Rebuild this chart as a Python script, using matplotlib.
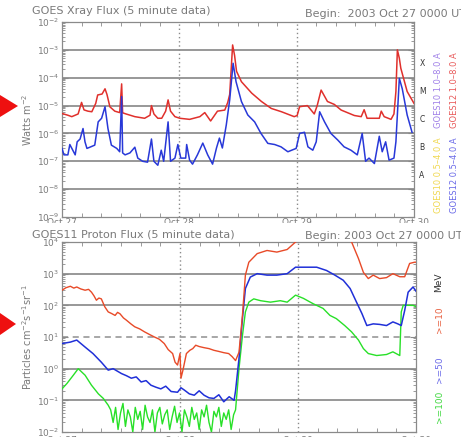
import matplotlib
matplotlib.use("Agg")
import matplotlib.pyplot as plt
import numpy as np
from matplotlib.patches import Polygon, Rectangle
from matplotlib.ticker import FixedLocator, LogLocator, NullFormatter

# ---------------- data: X-ray (GOES12) ----------------
xr_long_hours = [0, 1.2, 2.0, 3.3, 4.0, 4.5, 5.3, 6.1, 6.9, 7.3, 8.2, 8.8, 9.2, 9.8, 10.8, 11.8, 12.2, 12.4,
                 13.1, 14.9, 16.9, 18.0, 18.3, 18.8, 19.6, 20.4, 21.2, 21.7, 22.2, 23.1, 24.1, 26.1, 28.2, 29.2,
                 30.4, 31.8, 33.3, 33.9, 34.3, 34.9, 35.3, 35.7, 36.7, 38.8, 40.8, 42.8, 44.9, 47.5, 48.1, 48.6,
                 50.2, 51.6, 52.2, 53.0, 54.3, 55.7, 57.1, 59.8, 61.2, 61.8, 62.4, 63.9, 64.9, 65.3, 65.9, 67.3,
                 67.9, 68.3, 68.6, 69.0, 69.3, 70.6, 72.0]
xr_long_flux = [5.2e-6, 4.5e-6, 4.0e-6, 5.0e-6, 1.3e-5, 7.0e-6, 6.3e-6, 6.0e-6, 1.2e-5, 2.4e-5, 2.6e-5, 4.0e-5,
                2.5e-5, 9.0e-6, 6.3e-6, 5.6e-6, 6.0e-5, 5.5e-6, 5.0e-6, 4.0e-6, 3.5e-6, 4.5e-6, 1.0e-5, 5.0e-6,
                3.5e-6, 3.5e-6, 6.3e-6, 1.6e-5, 6.3e-6, 4.0e-6, 3.5e-6, 3.2e-6, 4.0e-6, 5.6e-6, 2.8e-6, 6.3e-6,
                6.9e-6, 1.3e-5, 2.5e-5, 1.5e-3, 6.3e-4, 1.7e-4, 7.2e-5, 2.8e-5, 1.4e-5, 7.9e-6, 6.0e-6, 4.0e-6,
                4.4e-6, 9.1e-6, 1.0e-5, 5.0e-6, 1.0e-5, 3.6e-5, 1.4e-5, 1.1e-5, 6.9e-6, 4.4e-6, 4.0e-6, 7.1e-6,
                3.5e-6, 3.5e-6, 3.5e-6, 6.3e-6, 4.0e-6, 3.2e-6, 5.0e-6, 3.2e-5, 1.0e-3, 5.0e-4, 2.2e-4, 3.2e-5,
                1.2e-5]

xr_short_hours = [0, 0.4, 1.2, 1.6, 2.7, 3.1, 3.7, 4.3, 4.7, 5.1, 5.7, 6.7, 7.4, 8.1, 8.8, 9.4, 10.1, 11.2,
                  11.8, 12.2, 12.4, 12.9, 13.9, 14.9, 15.5, 16.5, 17.5, 18.3, 18.8, 19.6, 20.3, 20.8, 21.7, 22.2,
                  23.1, 23.7, 24.3, 25.3, 25.5, 26.1, 26.7, 27.7, 28.8, 29.8, 30.8, 31.6, 32.2, 32.8, 33.6, 34.3,
                  35.0, 35.6, 36.7, 38.0, 39.4, 40.7, 42.1, 43.5, 44.8, 46.2, 47.9, 48.6, 49.6, 50.3, 51.3, 52.0,
                  52.7, 53.7, 55.0, 56.4, 57.7, 59.1, 60.4, 61.4, 62.1, 62.8, 63.9, 64.9, 65.5, 66.2, 66.9, 67.9,
                  68.3, 69.0, 69.6, 70.6, 71.6]
xr_short_flux = [2.9e-7, 1.7e-7, 1.7e-7, 4.0e-7, 1.7e-7, 5.0e-7, 6.3e-7, 1.5e-6, 5.0e-7, 2.9e-7, 3.2e-7, 3.8e-7,
                 2.6e-6, 3.5e-6, 9.1e-6, 1.5e-6, 3.8e-7, 2.9e-7, 2.2e-7, 2.1e-5, 2.0e-7, 1.7e-7, 2.0e-7, 3.2e-7,
                 1.3e-7, 1.0e-7, 9.3e-8, 6.3e-7, 1.0e-7, 7.2e-8, 2.5e-7, 1.0e-7, 2.6e-6, 1.0e-7, 1.3e-7, 4.0e-7,
                 1.3e-7, 1.3e-7, 4.0e-7, 1.1e-7, 7.9e-8, 1.7e-7, 4.5e-7, 1.7e-7, 7.9e-8, 3.0e-7, 6.8e-7, 3.0e-7,
                 2.0e-6, 1.6e-5, 3.3e-4, 7.2e-5, 1.4e-5, 4.6e-6, 2.6e-6, 1.0e-6, 4.4e-7, 4.0e-7, 3.3e-7, 2.2e-7,
                 2.9e-7, 1.0e-6, 1.1e-6, 3.3e-7, 2.5e-7, 5.0e-7, 6.0e-6, 2.6e-6, 1.0e-6, 5.8e-7, 3.3e-7, 2.5e-7,
                 1.7e-7, 1.0e-6, 1.0e-7, 1.3e-7, 8.3e-8, 7.9e-7, 2.2e-7, 5.0e-7, 1.1e-7, 1.3e-7, 5.0e-7, 9.5e-5,
                 4.0e-5, 4.6e-6, 1.1e-6]

# ---------------- data: protons (GOES11) ----------------
p10_hours = [0, 0.8, 1.7, 2.4, 3.0, 3.8, 4.7, 5.4, 6.0, 6.5, 7.0, 7.5, 8.0, 8.7, 9.4, 10.1, 10.8, 11.3, 11.8,
             12.5, 13.1, 14.0, 14.8, 15.8, 16.8, 17.8, 18.8, 19.8, 20.8, 21.6, 22.5, 23.0, 23.5, 24.0, 24.2,
             24.6, 25.3, 26.0, 26.6, 27.2, 27.9, 28.9, 29.9, 30.9, 31.9, 32.9, 33.9, 34.6, 35.3, 36.0, 36.7,
             37.3, 38.0, 39.7, 41.7, 43.7, 45.8, 47.5, 49.0, 52.0, 56.0, 58.9, 60.3, 61.3, 62.3, 63.3, 64.6,
             66.0, 67.3, 68.7, 69.7, 70.7, 71.7, 72.0]
p10_flux = [300, 360, 400, 350, 380, 330, 300, 320, 260, 200, 145, 170, 160, 90, 62, 55, 48, 60, 54,
            40, 34, 26, 21, 18, 14.5, 12, 10, 8.5, 6.2, 4.0, 3.0, 1.6, 1.3, 3.0, 0.5,
            0.9, 3.0, 3.8, 4.3, 5.5, 5.0, 4.6, 4.3, 3.8, 3.5, 3.2, 3.0, 2.4, 1.8, 3.3, 48,
            900, 2300, 4300, 5400, 4800, 5800, 10000, 14000, 20000, 25000, 10000, 3000, 1100, 700, 900, 700,
            750, 1000, 800, 800, 2100, 2300, 2300]

p50_hours = [0, 1.7, 3.0, 4.7, 6.3, 8.0, 9.4, 10.4, 12.1, 13.1, 14.1, 15.1, 16.1, 17.1, 18.1, 19.1, 20.1, 21.1,
             22.2, 23.5, 24.2, 24.9, 25.9, 26.9, 27.9, 28.9, 29.9, 30.9, 31.9, 32.9, 34.0, 35.0, 35.3, 36.0,
             36.7, 37.3, 38.3, 39.7, 41.7, 43.7, 45.8, 47.5, 49.1, 51.8, 53.8, 55.5, 57.2, 58.6, 59.9, 61.0,
             62.0, 63.3, 64.6, 66.0, 67.3, 68.3, 69.0, 69.7, 70.4, 71.4, 72.0]
p50_flux = [6.2, 6.9, 8.0, 4.8, 3.0, 1.6, 0.9, 1.0, 0.7, 0.6, 0.5, 0.55, 0.38, 0.42, 0.3, 0.26, 0.23, 0.28,
            0.19, 0.18, 0.25, 0.21, 0.16, 0.145, 0.2, 0.145, 0.12, 0.115, 0.15, 0.09, 0.13, 0.1, 0.2, 2.1,
            38, 340, 780, 1000, 900, 900, 1000, 1600, 1600, 1600, 1260, 900, 620, 340, 126, 55,
            23, 26, 25, 23, 30, 26, 23, 69, 260, 380, 280]

p100_hours = [0, 1.0, 2.3, 3.3, 4.7, 6.0, 7.4, 8.4, 9.4,
              9.9, 10.4, 10.9, 11.4, 11.9, 12.4, 12.9, 13.4, 13.9, 14.4, 14.9, 15.4, 15.9, 16.4, 16.9, 17.4,
              17.9, 18.4, 18.9, 19.4, 19.9, 20.4, 20.9, 21.4, 21.9, 22.4, 22.9, 23.4, 23.9, 24.4, 24.9, 25.4,
              25.9, 26.4, 26.9, 27.4, 27.9, 28.4, 28.9, 29.4, 29.9, 30.4, 30.9, 31.4, 31.9, 32.4, 32.9, 33.4,
              33.9, 34.4, 34.9,
              35.3, 36.0, 36.7, 37.3, 38.0, 39.0, 40.4, 42.4, 44.4, 45.8, 47.5, 49.1, 51.1, 53.1, 54.5, 55.8,
              57.5, 58.9, 60.3, 61.3, 62.3, 64.0, 66.0, 67.3, 68.7, 69.0, 69.4, 70.4, 71.4, 72.0]
p100_flux = [0.23, 0.34, 0.62, 1.0, 0.62, 0.3, 0.16, 0.115, 0.07,
             0.05, 0.02, 0.06, 0.012, 0.04, 0.08, 0.015, 0.05, 0.03, 0.01, 0.06, 0.025, 0.045, 0.012, 0.07, 0.03,
             0.02, 0.05, 0.01, 0.04, 0.06, 0.018, 0.035, 0.05, 0.012, 0.03, 0.065, 0.02, 0.04, 0.01, 0.05, 0.03,
             0.015, 0.06, 0.025, 0.04, 0.012, 0.05, 0.03, 0.07, 0.02, 0.01, 0.045, 0.03, 0.06, 0.015, 0.04, 0.025,
             0.05, 0.012, 0.035,
             0.05, 1.0, 11, 62, 126, 160, 140, 126, 140, 126, 210, 166, 112, 80, 48, 38,
             23, 14.5, 8, 4.3, 3.0, 2.6, 2.8, 3.4, 2.6, 62, 100, 100, 100, 90]

day_hours = [0, 24, 48, 72]
day_labels = ["Oct 27", "Oct 28", "Oct 29", "Oct 30"]
xr_ticks = [1e-9, 1e-8, 1e-7, 1e-6, 1e-5, 1e-4, 1e-3, 1e-2]
xr_ticklabels = ["10$^{-9}$", "10$^{-8}$", "10$^{-7}$", "10$^{-6}$", "10$^{-5}$", "10$^{-4}$", "10$^{-3}$", "10$^{-2}$"]
p_ticks = [1e-2, 1e-1, 1e0, 1e1, 1e2, 1e3, 1e4]
p_ticklabels = ["10$^{-2}$", "10$^{-1}$", "10$^{0}$", "10$^{1}$", "10$^{2}$", "10$^{3}$", "10$^{4}$"]
class_letters = ["X", "M", "C", "B", "A"]
class_centers = [10**-3.5, 10**-4.5, 10**-5.5, 10**-6.5, 10**-7.5]

# ---------------- figure ----------------
W, H = 461, 437
fig = plt.figure(figsize=(W / 100, H / 100), dpi=100)
fig.patch.set_facecolor("white")
GRAY = "#8a8a8a"
TXT = "#7a7a7a"
FS = 6.5


def px_rect(x0, y0, x1, y1):
    return [x0 / W, 1 - y1 / H, (x1 - x0) / W, (y1 - y0) / H]


def style_axes(ax, ticks, labels, xpad):
    ax.set_yscale("log")
    ax.set_xlim(0, 72)
    ax.set_yticks(ticks)
    ax.set_yticklabels(labels, fontsize=FS, color=TXT)
    ax.yaxis.set_minor_locator(LogLocator(base=10, subs=np.arange(2, 10), numticks=20))
    ax.yaxis.set_minor_formatter(NullFormatter())
    ax.tick_params(axis="y", which="major", length=4, width=0.8, color=GRAY, right=True, direction="in", pad=2)
    ax.tick_params(axis="y", which="minor", length=2, width=0.6, color=GRAY, right=True, direction="in")
    ax.set_xticks(day_hours)
    ax.set_xticklabels(day_labels, fontsize=FS, color=TXT)
    ax.xaxis.set_minor_locator(FixedLocator([h for h in range(0, 73, 4)]))
    ax.tick_params(axis="x", which="major", length=0, pad=xpad, top=False)
    ax.tick_params(axis="x", which="minor", length=3, width=0.6, color=GRAY, top=True, direction="in")
    for s in ax.spines.values():
        s.set_color(GRAY)
        s.set_linewidth(0.9)
    for d in day_hours[1:-1]:
        ax.axvline(d, color=GRAY, lw=1.0, ls=(0, (1, 2)), zorder=1)


# ---- top panel: X-ray ----
ax1 = fig.add_axes(px_rect(62, 22, 414, 217))
style_axes(ax1, xr_ticks, xr_ticklabels, 1)
ax1.set_ylim(1e-9, 1e-2)
for g in xr_ticks[1:-1]:
    ax1.axhline(g, color="#909090", lw=1.3, zorder=1)
ax1.plot(xr_long_hours, xr_long_flux, color="#e0302c", lw=1.1, zorder=3)
ax1.plot(xr_short_hours, xr_short_flux, color="#2838d8", lw=1.1, zorder=3)
ax1.set_ylabel("Watts m$^{-2}$", fontsize=FS + 0.5, color=TXT, labelpad=2)
for letter, c in zip(class_letters, class_centers):
    ax1.text(1.015, c, letter, transform=ax1.get_yaxis_transform(), fontsize=5.5,
             color="#333333", va="center", ha="left")
ax1.text(1.07, 0.65, "GOES10 1.0\u20138.0 A", transform=ax1.transAxes, rotation=90, fontsize=6,
         color="#a080e8", va="center", ha="center")
ax1.text(1.115, 0.65, "GOES12 1.0\u20138.0 A", transform=ax1.transAxes, rotation=90, fontsize=6,
         color="#e85a5a", va="center", ha="center")
ax1.text(1.07, 0.215, "GOES10 0.5\u20134.0 A", transform=ax1.transAxes, rotation=90, fontsize=6,
         color="#f0d850", va="center", ha="center")
ax1.text(1.115, 0.215, "GOES12 0.5\u20134.0 A", transform=ax1.transAxes, rotation=90, fontsize=6,
         color="#6a6ae8", va="center", ha="center")

fig.text(32 / W, 1 - 11 / H, "GOES Xray Flux (5 minute data)", fontsize=8, color=TXT, va="center", ha="left")
fig.text(305 / W, 1 - 14 / H, "Begin:  2003 Oct 27 0000 UTC", fontsize=8, color=TXT, va="center", ha="left")

# ---- bottom panel: protons ----
ax2 = fig.add_axes(px_rect(62, 242, 416, 432))
style_axes(ax2, p_ticks, p_ticklabels, 3)
ax2.set_ylim(1e-2, 1e4)
for g in [1e-1, 1e0, 1e2, 1e3]:
    ax2.axhline(g, color="#909090", lw=1.3, zorder=1)
ax2.axhline(1e1, color="#909090", lw=1.1, ls=(0, (4, 3)), zorder=1)
ax2.plot(p100_hours, p100_flux, color="#28e028", lw=1.0, zorder=3)
ax2.plot(p50_hours, p50_flux, color="#2030d8", lw=1.1, zorder=4)
ax2.plot(p10_hours, p10_flux, color="#e84a28", lw=1.0, zorder=5)
ax2.set_ylabel("Particles cm$^{-2}$s$^{-1}$sr$^{-1}$", fontsize=FS + 0.5, color=TXT, labelpad=2)
ax2.text(1.065, 0.79, "MeV", transform=ax2.transAxes, rotation=90, fontsize=6.5, color="#333333",
         va="center", ha="center")
ax2.text(1.065, 0.59, ">=10", transform=ax2.transAxes, rotation=90, fontsize=6.5, color="#e86040",
         va="center", ha="center")
ax2.text(1.065, 0.33, ">=50", transform=ax2.transAxes, rotation=90, fontsize=6.5, color="#6a6ae8",
         va="center", ha="center")
ax2.text(1.065, 0.13, ">=100", transform=ax2.transAxes, rotation=90, fontsize=6.5, color="#40d840",
         va="center", ha="center")

# cover lower part of the top panel's date labels (cropped look)
fig.add_artist(Rectangle((0, 1 - 229 / H), 1, 6.5 / H, transform=fig.transFigure, facecolor="white",
                         edgecolor="none", zorder=5))
fig.text(32 / W, 1 - 234 / H, "GOES11 Proton Flux (5 minute data)", fontsize=8, color=TXT, va="center",
         ha="left", zorder=6)
fig.text(305 / W, 1 - 236 / H, "Begin: 2003 Oct 27 0000 UTC", fontsize=8, color=TXT, va="center", ha="left",
         zorder=6)

# red arrow markers at left edge
for (yc, xt) in [(106, 18), (324, 16)]:
    tri = Polygon([[0, 1 - (yc - 11) / H], [0, 1 - (yc + 11) / H], [xt / W, 1 - yc / H]],
                  closed=True, transform=fig.transFigure, facecolor="#ee1010", edgecolor="none", zorder=7)
    fig.add_artist(tri)

fig.savefig("out.png", dpi=100, facecolor="white")
